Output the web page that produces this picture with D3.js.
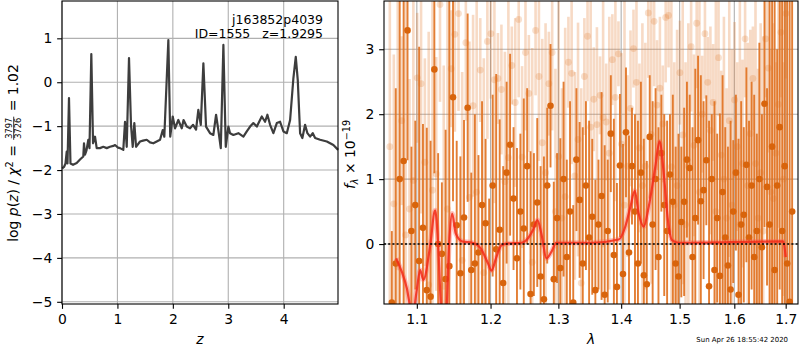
<!DOCTYPE html>
<html><head><meta charset="utf-8">
<script src="https://cdn.jsdelivr.net/npm/d3@7"></script>
<style>body{margin:0;background:#fff}svg{display:block}text{font-family:"DejaVu Sans",sans-serif}</style>
</head><body><svg id="c" width="800" height="350"></svg>
<script>
// ---------------- DATA ----------------
const zTicks = [0,1,2,3,4];
const logPTicks = [1,0,-1,-2,-3,-4,-5];
const zGrid = [
0.005,0.036,0.063,0.085,0.099,0.126,0.153,0.199,0.265,0.325,
0.384,0.397,0.415,0.442,0.475,0.496,0.529,0.560,0.596,0.626,
0.686,0.745,0.807,0.866,0.926,0.957,1.011,1.047,1.106,1.137,
1.168,1.209,1.245,1.276,1.305,1.336,1.408,1.462,1.529,1.588,
1.648,1.709,1.769,1.818,1.846,1.919,1.953,1.998,2.040,2.099,
2.161,2.193,2.251,2.310,2.365,2.419,2.460,2.504,2.551,2.599,
2.671,2.731,2.780,2.821,2.865,2.912,2.955,3.002,3.032,3.092,
3.182,3.273,3.334,3.394,3.453,3.515,3.605,3.664,3.706,3.755,
3.814,3.876,3.935,3.995,4.056,4.116,4.175,4.218,4.254,4.296,
4.337,4.386,4.428,4.477,4.525,4.567,4.657,4.778,4.897,4.982];
const logPz = [
-1.96,-1.93,-1.85,-1.58,-1.85,-0.36,-1.85,-1.88,-1.84,-1.76,
-1.69,-1.39,-1.65,-1.55,-1.31,-1.50,0.64,-1.39,-1.24,-1.50,
-1.50,-1.47,-1.50,-1.47,-1.45,-1.43,-1.49,-1.50,-1.54,-0.90,
-1.47,0.55,-0.97,-1.47,-0.93,-1.47,-1.35,-1.33,-1.31,-1.37,
-1.39,-1.35,-1.31,-1.09,-1.24,0.96,-1.24,-0.78,-1.05,-0.86,
-1.05,-0.86,-1.01,-1.05,-0.97,-1.08,-0.63,-0.97,0.43,-1.01,
-1.16,-1.20,-0.74,-1.09,-1.50,0.85,-1.47,-1.01,-1.16,-1.20,
-1.16,-1.24,-1.12,-1.01,-0.93,-1.01,-0.78,-0.90,-0.74,-0.97,
-1.16,-0.93,-0.90,-1.12,-1.16,-0.86,0.09,0.58,0.05,-1.16,
-1.27,-0.97,-1.16,-1.24,-1.16,-1.27,-1.31,-1.35,-1.43,-1.54];

const lamTicks = [1.1,1.2,1.3,1.4,1.5,1.6,1.7];
const fluxTicks = [0,1,2,3];

const darkWave = [
1.068,1.073,1.078,1.083,1.088,1.093,1.098,1.103,1.108,1.113,
1.118,1.123,1.128,1.133,1.138,1.143,1.148,1.153,1.158,1.163,
1.168,1.173,1.178,1.183,1.188,1.193,1.198,1.203,1.208,1.213,
1.218,1.223,1.228,1.233,1.238,1.243,1.248,1.253,1.258,1.263,
1.268,1.273,1.278,1.283,1.288,1.293,1.298,1.303,1.308,1.313,
1.318,1.323,1.328,1.333,1.338,1.343,1.348,1.353,1.358,1.363,
1.368,1.373,1.378,1.383,1.388,1.393,1.398,1.403,1.408,1.413,
1.418,1.423,1.428,1.433,1.438,1.443,1.448,1.453,1.458,1.463,
1.468,1.473,1.478,1.483,1.488,1.493,1.498,1.503,1.508,1.513,
1.518,1.523,1.528,1.533,1.538,1.543,1.548,1.553,1.558,1.563,
1.568,1.573,1.578,1.583,1.588,1.593,1.598,1.603,1.608,1.613,
1.618,1.623,1.628,1.633,1.638,1.643,1.648,1.653,1.658,1.663,
1.668,1.673,1.678,1.683,1.688,1.693,1.698,1.703,1.708,1.713];
const darkFlux = [
-0.9,-0.3,1.0,1.28,3.29,0.2,0.6,-0.26,0.25,-0.71,
-0.81,2.69,0.0,-0.15,-0.54,-0.34,2.26,0.29,-0.45,0.41,
2.10,-0.40,-0.30,-0.13,0.6,0.32,-1.2,0.9,-0.08,0.22,
-0.6,1.1,1.53,0.70,-0.22,0.5,0.24,1.2,-0.77,0.3,
0.64,-0.5,-0.85,0.9,2.13,-0.54,0.4,-0.37,1.0,-0.2,
0.5,-0.9,1.3,0.68,-0.3,0.9,0.1,0.42,-0.71,0.3,
0.74,-0.78,0.2,1.70,-0.17,-0.66,1.21,-0.46,1.72,-0.13,
1.20,0.5,-0.3,1.1,-0.48,-0.62,1.65,0.3,1.0,-0.2,
1.4,0.6,0.2,1.07,0.65,-0.3,-0.5,0.34,0.65,1.3,
1.17,-0.2,0.4,1.60,0.66,0.83,1.29,-0.65,1.0,-0.40,
0.40,-0.49,0.8,0.1,-0.33,-0.70,0.5,1.1,-0.78,0.3,
0.45,1.22,0.10,0.9,-0.2,0.20,1.0,-0.05,2.16,0.88,
0.3,1.5,-0.4,0.9,1.8,0.2,1.2,-0.3,-0.89,0.5];
const darkErr = [
1.1,2.7,3.5,2.9,2.0,1.3,1.3,3.3,1.6,2.5,
2.4,1.6,1.4,1.1,2.3,4.3,1.6,1.3,1.8,1.5,
1.45,1.5,2.3,1.5,1.6,1.3,1.9,1.4,2.7,1.7,
1.8,1.4,1.4,1.1,1.7,1.2,2.0,1.2,2.2,1.1,
1.3,1.7,2.2,1.2,0.95,1.5,1.0,2.0,1.5,1.5,
1.7,1.5,1.1,1.2,2.1,1.3,1.8,1.2,1.7,1.0,
1.6,2.3,1.1,0.9,2.1,1.6,1.1,2.0,1.0,1.8,
0.9,1.5,2.2,1.4,2.1,1.9,0.95,1.9,1.4,2.0,
0.9,1.4,1.7,0.93,1.65,1.8,2.2,1.16,1.45,1.2,
1.13,2.0,2.3,1.3,1.94,1.37,1.0,2.55,1.0,2.6,
1.3,2.5,1.8,1.7,1.83,2.6,1.1,1.2,2.4,1.9,
1.35,1.5,1.8,1.6,2.5,1.5,2.1,2.05,1.9,1.52,
3.6,2.6,4.3,2.1,2.5,4.0,3.4,4.5,5.0,4.0];

const lightWave = [
1.0655,1.0705,1.0755,1.0805,1.0855,1.0905,1.0955,1.1005,1.1055,1.1105,
1.1155,1.1205,1.1255,1.1305,1.1355,1.1405,1.1455,1.1505,1.1555,1.1605,
1.1655,1.1705,1.1755,1.1805,1.1855,1.1905,1.1955,1.2005,1.2055,1.2105,
1.2155,1.2205,1.2255,1.2305,1.2355,1.2405,1.2455,1.2505,1.2555,1.2605,
1.2655,1.2705,1.2755,1.2805,1.2855,1.2905,1.2955,1.3005,1.3055,1.3105,
1.3155,1.3205,1.3255,1.3305,1.3355,1.3405,1.3455,1.3505,1.3555,1.3605,
1.3655,1.3705,1.3755,1.3805,1.3855,1.3905,1.3955,1.4005,1.4055,1.4105,
1.4155,1.4205,1.4255,1.4305,1.4355,1.4405,1.4455,1.4505,1.4555,1.4605,
1.4655,1.4705,1.4755,1.4805,1.4855,1.4905,1.4955,1.5005,1.5055,1.5105,
1.5155,1.5205,1.5255,1.5305,1.5355,1.5405,1.5455,1.5505,1.5555,1.5605,
1.5655,1.5705,1.5755,1.5805,1.5855,1.5905,1.5955,1.6005,1.6055,1.6105,
1.6155,1.6205,1.6255,1.6305,1.6355,1.6405,1.6455,1.6505,1.6555,1.6605,
1.6655,1.6705,1.6755,1.6805,1.6855,1.6905,1.6955,1.7005];
const lightFlux = [
1.5,0.62,-0.35,1.9,0.14,0.54,0.98,2.56,2.47,1.26,
-0.63,0.83,1.08,3.69,-0.65,0.54,2.70,3.23,3.55,-0.25,
3.10,0.72,2.13,0.80,2.68,-0.44,3.12,3.24,2.53,2.55,
2.38,0.96,1.33,2.75,2.18,3.46,1.34,2.95,2.32,-0.28,
3.29,2.58,1.56,1.10,2.47,2.95,0.5,1.35,0.4,0.73,
2.80,2.63,1.05,1.61,-0.60,2.58,3.2,1.80,2.23,1.84,
2.29,1.95,1.88,1.40,2.84,2.26,2.93,1.54,0.6,1.20,
2.09,3.01,2.49,1.48,0.9,1.2,3.56,1.69,3.43,2.14,
2.40,1.85,3.49,3.52,1.19,0.6,0.9,2.64,1.68,0.3,
1.2,3.04,1.52,3.40,0.8,2.0,3.24,2.49,1.75,2.18,
0.5,2.87,1.37,1.0,0.4,1.9,0.6,2.22,1.5,0.3,
1.24,3.16,0.9,1.7,2.55,1.24,0.4,1.1,0.2,3.16,
2.71,0.8,0.7,1.40,2.15,3.26,1.0,3.55];
const lightErr = [
2.4,2.3,4.2,1.3,3.8,2.0,3.1,1.0,2.0,1.6,
3.9,3.2,1.8,1.5,3.4,3.4,0.9,1.5,1.5,2.9,
1.2,2.4,1.4,3.2,0.8,3.3,1.5,1.0,1.9,0.7,
1.0,2.0,2.6,0.6,1.3,1.2,1.4,1.2,0.9,3.3,
1.0,1.3,1.6,2.3,0.8,1.2,2.2,2.6,2.0,2.6,
0.7,1.4,1.6,1.8,3.0,0.9,1.0,2.2,0.8,1.5,
0.6,2.0,0.9,2.1,0.7,1.6,0.5,1.4,3.3,1.4,
1.2,0.6,1.5,1.3,2.5,1.9,1.0,2.3,1.0,1.0,
1.1,0.9,1.0,0.8,2.8,2.2,2.4,0.8,2.3,2.5,
2.2,1.0,1.4,1.0,3.2,0.9,1.0,0.7,1.6,0.9,
3.5,0.9,1.3,2.5,2.0,2.1,2.4,1.2,1.3,3.7,
1.6,0.9,2.2,1.6,0.8,2.8,2.3,2.3,3.0,0.9,
1.3,2.2,2.7,1.4,1.9,1.0,1.8,1.0];

const modelWave = [
1.0735,1.0807,1.0871,1.0913,1.0952,1.1000,1.1043,1.1086,1.1174,1.1240,
1.1280,1.1320,1.1350,1.1387,1.1427,1.1468,1.1518,1.1608,1.1746,1.1863,
1.1965,1.2012,1.2083,1.2155,1.2251,1.2445,1.2543,1.2618,1.2682,1.2742,
1.2818,1.2893,1.2969,1.3527,1.3960,1.4069,1.4153,1.4226,1.4293,1.4378,
1.4462,1.4576,1.4648,1.4721,1.4794,1.4865,1.4983,1.6953,1.7000];
const modelFlux = [
-0.22,-0.43,-0.68,-0.95,-1.05,-0.70,-0.40,-0.55,-0.03,0.52,
0.0,-1.0,-1.2,-1.1,0.0,0.47,0.16,0.04,0.02,-0.07,
-0.30,-0.41,-0.20,-0.02,0.01,0.02,0.09,0.22,0.37,0.16,
-0.22,-0.12,0.02,0.02,0.07,0.27,0.57,0.82,0.47,0.27,
0.57,1.19,1.58,1.09,0.37,0.06,0.02,0.04,-0.20];

// ---------------- DRAW ----------------
const svg = d3.select('#c');
const FS = 13.9, GRID = '#b0b0b0', ORANGE = '#e0701e', DOT = '#d8640c';
const TL = 4.86;

function styleAxis(g){
  g.select('.domain').remove();
  g.attr('font-family','DejaVu Sans').attr('font-size',FS);
  g.selectAll('text').attr('fill','#000');
  g.selectAll('line').attr('stroke','#000').attr('stroke-width',1.1);
}

// ----- Left panel -----
const L = {x0:62,x1:338,y0:1,y1:304};
const xL = d3.scaleLinear().domain([0,4.98]).range([L.x0,L.x1]);
const yL = d3.scaleLinear().domain([-5.05,1.85]).range([L.y1,L.y0]);
const gL = svg.append('g');
gL.selectAll('line.gx').data(zTicks).join('line').attr('class','gx')
  .attr('x1',d=>xL(d)).attr('x2',d=>xL(d)).attr('y1',L.y0).attr('y2',L.y1)
  .attr('stroke',GRID).attr('stroke-width',1.1);
gL.selectAll('line.gy').data(logPTicks).join('line').attr('class','gy')
  .attr('x1',L.x0).attr('x2',L.x1).attr('y1',d=>yL(d)).attr('y2',d=>yL(d))
  .attr('stroke',GRID).attr('stroke-width',1.1);
gL.append('path').datum(d3.range(zGrid.length))
  .attr('d',d3.line().x(i=>xL(zGrid[i])).y(i=>yL(logPz[i])))
  .attr('fill','none').attr('stroke','#3d3d3d').attr('stroke-width',2.2)
  .attr('stroke-linejoin','round');
svg.append('g').attr('transform',`translate(0,${L.y1})`)
  .call(d3.axisBottom(xL).tickValues(zTicks).tickSize(TL).tickPadding(TL).tickFormat(d3.format('d')))
  .call(styleAxis);
svg.append('g').attr('transform',`translate(${L.x0},0)`)
  .call(d3.axisLeft(yL).tickValues(logPTicks).tickSize(TL).tickPadding(TL).tickFormat(d3.format('d')))
  .call(styleAxis);
svg.append('rect').attr('x',L.x0).attr('y',L.y0).attr('width',L.x1-L.x0).attr('height',L.y1-L.y0)
  .attr('fill','none').attr('stroke','#000').attr('stroke-width',1.1);

svg.append('text').attr('x',323).attr('y',23.5).attr('text-anchor','end').attr('font-size',12.5)
  .text('j163852p4039');
svg.append('text').attr('x',323).attr('y',37.5).attr('text-anchor','end').attr('font-size',12.5)
  .attr('xml:space','preserve').style('white-space','pre').text('ID=1555   z=1.9295');

svg.append('text').attr('x',200).attr('y',344).attr('text-anchor','middle').attr('font-size',FS)
  .attr('font-style','italic').text('z');

// left y label (rotated, with fraction)
{
  const g = svg.append('g');
  const t1 = g.append('text').attr('font-size',FS);
  t1.append('tspan').text('log ');
  t1.append('tspan').attr('font-style','italic').text('p');
  t1.append('tspan').text('(');
  t1.append('tspan').attr('font-style','italic').text('z');
  t1.append('tspan').text(') / ');
  t1.append('tspan').attr('font-style','italic').text('χ');
  t1.append('tspan').attr('font-size',9.7).attr('dy',-5.5).text('2');
  t1.append('tspan').attr('dy',5.5).style('white-space','pre').text(' = ');
  const w1 = t1.node().getComputedTextLength() + 1;
  const num = g.append('text').attr('font-size',8.3).attr('text-anchor','middle').attr('y',-6.2).text('3797');
  const den = g.append('text').attr('font-size',8.3).attr('text-anchor','middle').attr('y',2.2).text('3726');
  const fw = Math.max(num.node().getComputedTextLength(), den.node().getComputedTextLength()) + 2;
  num.attr('x', w1 + fw/2); den.attr('x', w1 + fw/2);
  g.append('line').attr('x1',w1).attr('x2',w1+fw).attr('y1',-4.6).attr('y2',-4.6)
    .attr('stroke','#000').attr('stroke-width',0.8);
  const t3 = g.append('text').attr('font-size',FS).attr('x',w1+fw+1).style('white-space','pre').text(' = 1.02');
  const W = w1 + fw + 1 + t3.node().getComputedTextLength();
  g.attr('transform',`translate(18.3,${153 + W/2}) rotate(-90)`);
}

// ----- Right panel -----
const R = {x0:384,x1:798,y0:1,y1:304};
const xR = d3.scaleLog().domain([1.0582,1.7249]).range([R.x0,R.x1]);
const yR = d3.scaleLinear().domain([-0.923,3.743]).range([R.y1,R.y0]);
svg.append('clipPath').attr('id','clipR').append('rect')
  .attr('x',R.x0).attr('y',R.y0).attr('width',R.x1-R.x0).attr('height',R.y1-R.y0);
const gR = svg.append('g').attr('clip-path','url(#clipR)');

gR.selectAll('line.gx').data(lamTicks).join('line').attr('class','gx')
  .attr('x1',d=>xR(d)).attr('x2',d=>xR(d)).attr('y1',R.y0).attr('y2',R.y1)
  .attr('stroke',GRID).attr('stroke-width',1.1);
gR.selectAll('line.gy').data(fluxTicks).join('line').attr('class','gy')
  .attr('x1',R.x0).attr('x2',R.x1).attr('y1',d=>yR(d)).attr('y2',d=>yR(d))
  .attr('stroke',GRID).attr('stroke-width',1.1);

const li = d3.range(lightWave.length);
gR.selectAll('line.lb').data(li).join('line').attr('class','lb')
  .attr('x1',i=>xR(lightWave[i])).attr('x2',i=>xR(lightWave[i]))
  .attr('y1',i=>yR(lightFlux[i]-lightErr[i])).attr('y2',i=>yR(lightFlux[i]+lightErr[i]))
  .attr('stroke',ORANGE).attr('stroke-opacity',0.26).attr('stroke-width',2.6);
gR.selectAll('circle.ld').data(li).join('circle').attr('class','ld')
  .attr('cx',i=>xR(lightWave[i])).attr('cy',i=>yR(lightFlux[i])).attr('r',3.4)
  .attr('fill',ORANGE).attr('fill-opacity',0.22);

const di = d3.range(darkWave.length);
gR.selectAll('line.db').data(di).join('line').attr('class','db')
  .attr('x1',i=>xR(darkWave[i])).attr('x2',i=>xR(darkWave[i]))
  .attr('y1',i=>yR(darkFlux[i]-darkErr[i])).attr('y2',i=>yR(darkFlux[i]+darkErr[i]))
  .attr('stroke',ORANGE).attr('stroke-opacity',0.9).attr('stroke-width',1.9);
gR.selectAll('circle.dd').data(di).join('circle').attr('class','dd')
  .attr('cx',i=>xR(darkWave[i])).attr('cy',i=>yR(darkFlux[i])).attr('r',3.3)
  .attr('fill',DOT);

const mline = d3.line().curve(d3.curveMonotoneX).x(i=>xR(modelWave[i])).y(i=>yR(modelFlux[i]));
const mi = d3.range(modelWave.length);
gR.append('path').datum(mi).attr('d',mline).attr('fill','none')
  .attr('stroke','#ff5a4a').attr('stroke-opacity',0.35).attr('stroke-width',5);
gR.append('path').datum(mi).attr('d',mline).attr('fill','none')
  .attr('stroke','#f22a18').attr('stroke-opacity',0.85).attr('stroke-width',2.2);

gR.append('line').attr('x1',R.x0).attr('x2',R.x1).attr('y1',yR(0)).attr('y2',yR(0))
  .attr('stroke','#000').attr('stroke-width',1.6).attr('stroke-dasharray','2,2.2');

svg.append('g').attr('transform',`translate(0,${R.y1})`)
  .call(d3.axisBottom(xR).tickValues(lamTicks).tickSize(TL).tickPadding(TL).tickFormat(d3.format('.1f')))
  .call(styleAxis);
svg.append('g').attr('transform',`translate(${R.x0},0)`)
  .call(d3.axisLeft(yR).tickValues(fluxTicks).tickSize(TL).tickPadding(TL).tickFormat(d3.format('d')))
  .call(styleAxis);
svg.append('rect').attr('x',R.x0).attr('y',R.y0).attr('width',R.x1-R.x0).attr('height',R.y1-R.y0)
  .attr('fill','none').attr('stroke','#000').attr('stroke-width',1.1);

svg.append('text').attr('x',591).attr('y',344).attr('text-anchor','middle').attr('font-size',FS)
  .attr('font-style','italic').text('λ');

// right y label
{
  const g = svg.append('g');
  const t = g.append('text').attr('font-size',FS).attr('text-anchor','middle');
  t.append('tspan').attr('font-style','italic').text('f');
  t.append('tspan').attr('font-style','italic').attr('font-size',9.7).attr('dy',3).text('λ');
  t.append('tspan').attr('dy',-3).style('white-space','pre').text(' × 10');
  t.append('tspan').attr('font-size',9.7).attr('dy',-5.5).text('−19');
  g.attr('transform','translate(355,154.5) rotate(-90)');
}

svg.append('text').attr('x',788).attr('y',342).attr('text-anchor','end').attr('font-size',6.94)
  .text('Sun Apr 26 18:55:42 2020');
</script></body></html>
